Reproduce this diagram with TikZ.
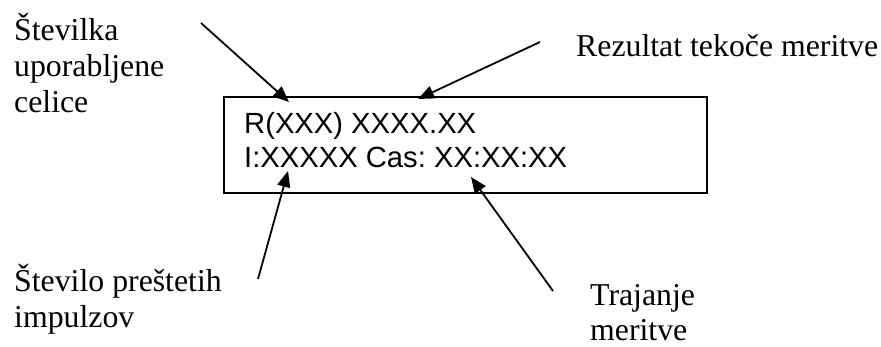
\documentclass[tikz,border=0pt]{standalone}
\usepackage{fontspec}
\setmainfont{Liberation Serif}
\newfontfamily\dispfont{Liberation Sans}
\usetikzlibrary{arrows.meta}
\frenchspacing
\begin{document}
\begin{tikzpicture}[x=1pt,y=-1pt,
  lbl/.style={inner sep=0pt,anchor=base west,align=left,font=\fontsize{31.8}{36}\selectfont},
  disptext/.style={inner sep=0pt,anchor=base west,align=left,font=\dispfont\fontsize{29.2}{34}\selectfont},
  lcd/.style={draw,line width=2.2pt,minimum width=483pt,minimum height=96pt,anchor=north west,inner sep=0pt},
  arr/.style={line width=1.8pt,-{Triangle[length=16pt,width=13pt]}}]
\useasboundingbox (0,0) rectangle (881,346);
\node[lcd] (box) at (223,96) {};
% base anchor of a multi-line node = baseline of its last line
\node[disptext] (disp) at (244,167) {R(XXX) XXXX.XX\\I:XXXXX Cas: XX:XX:XX};
\node[lbl] (celica) at (14,112) {Številka\\uporabljene\\celice};
\node[lbl] (rez) at (576,56) {Rezultat tekoče meritve};
\node[lbl] (imp) at (14,327) {Število preštetih\\impulzov};
\node[lbl,font=\fontsize{31.8}{35}\selectfont] (traj) at (590,340) {Trajanje\\meritve};
\coordinate (s1) at (201,23);  \coordinate (t1) at (289,102);
\coordinate (s2) at (540,42);  \coordinate (t2) at (418,99);
\coordinate (s3) at (258,279); \coordinate (t3) at (288,171);
\coordinate (s4) at (553,291); \coordinate (t4) at (471,177);
\draw[arr] (s1) -- (t1);
\draw[arr] (s2) -- (t2);
\draw[arr] (s3) -- (t3);
\draw[arr] (s4) -- (t4);
\end{tikzpicture}
\end{document}
